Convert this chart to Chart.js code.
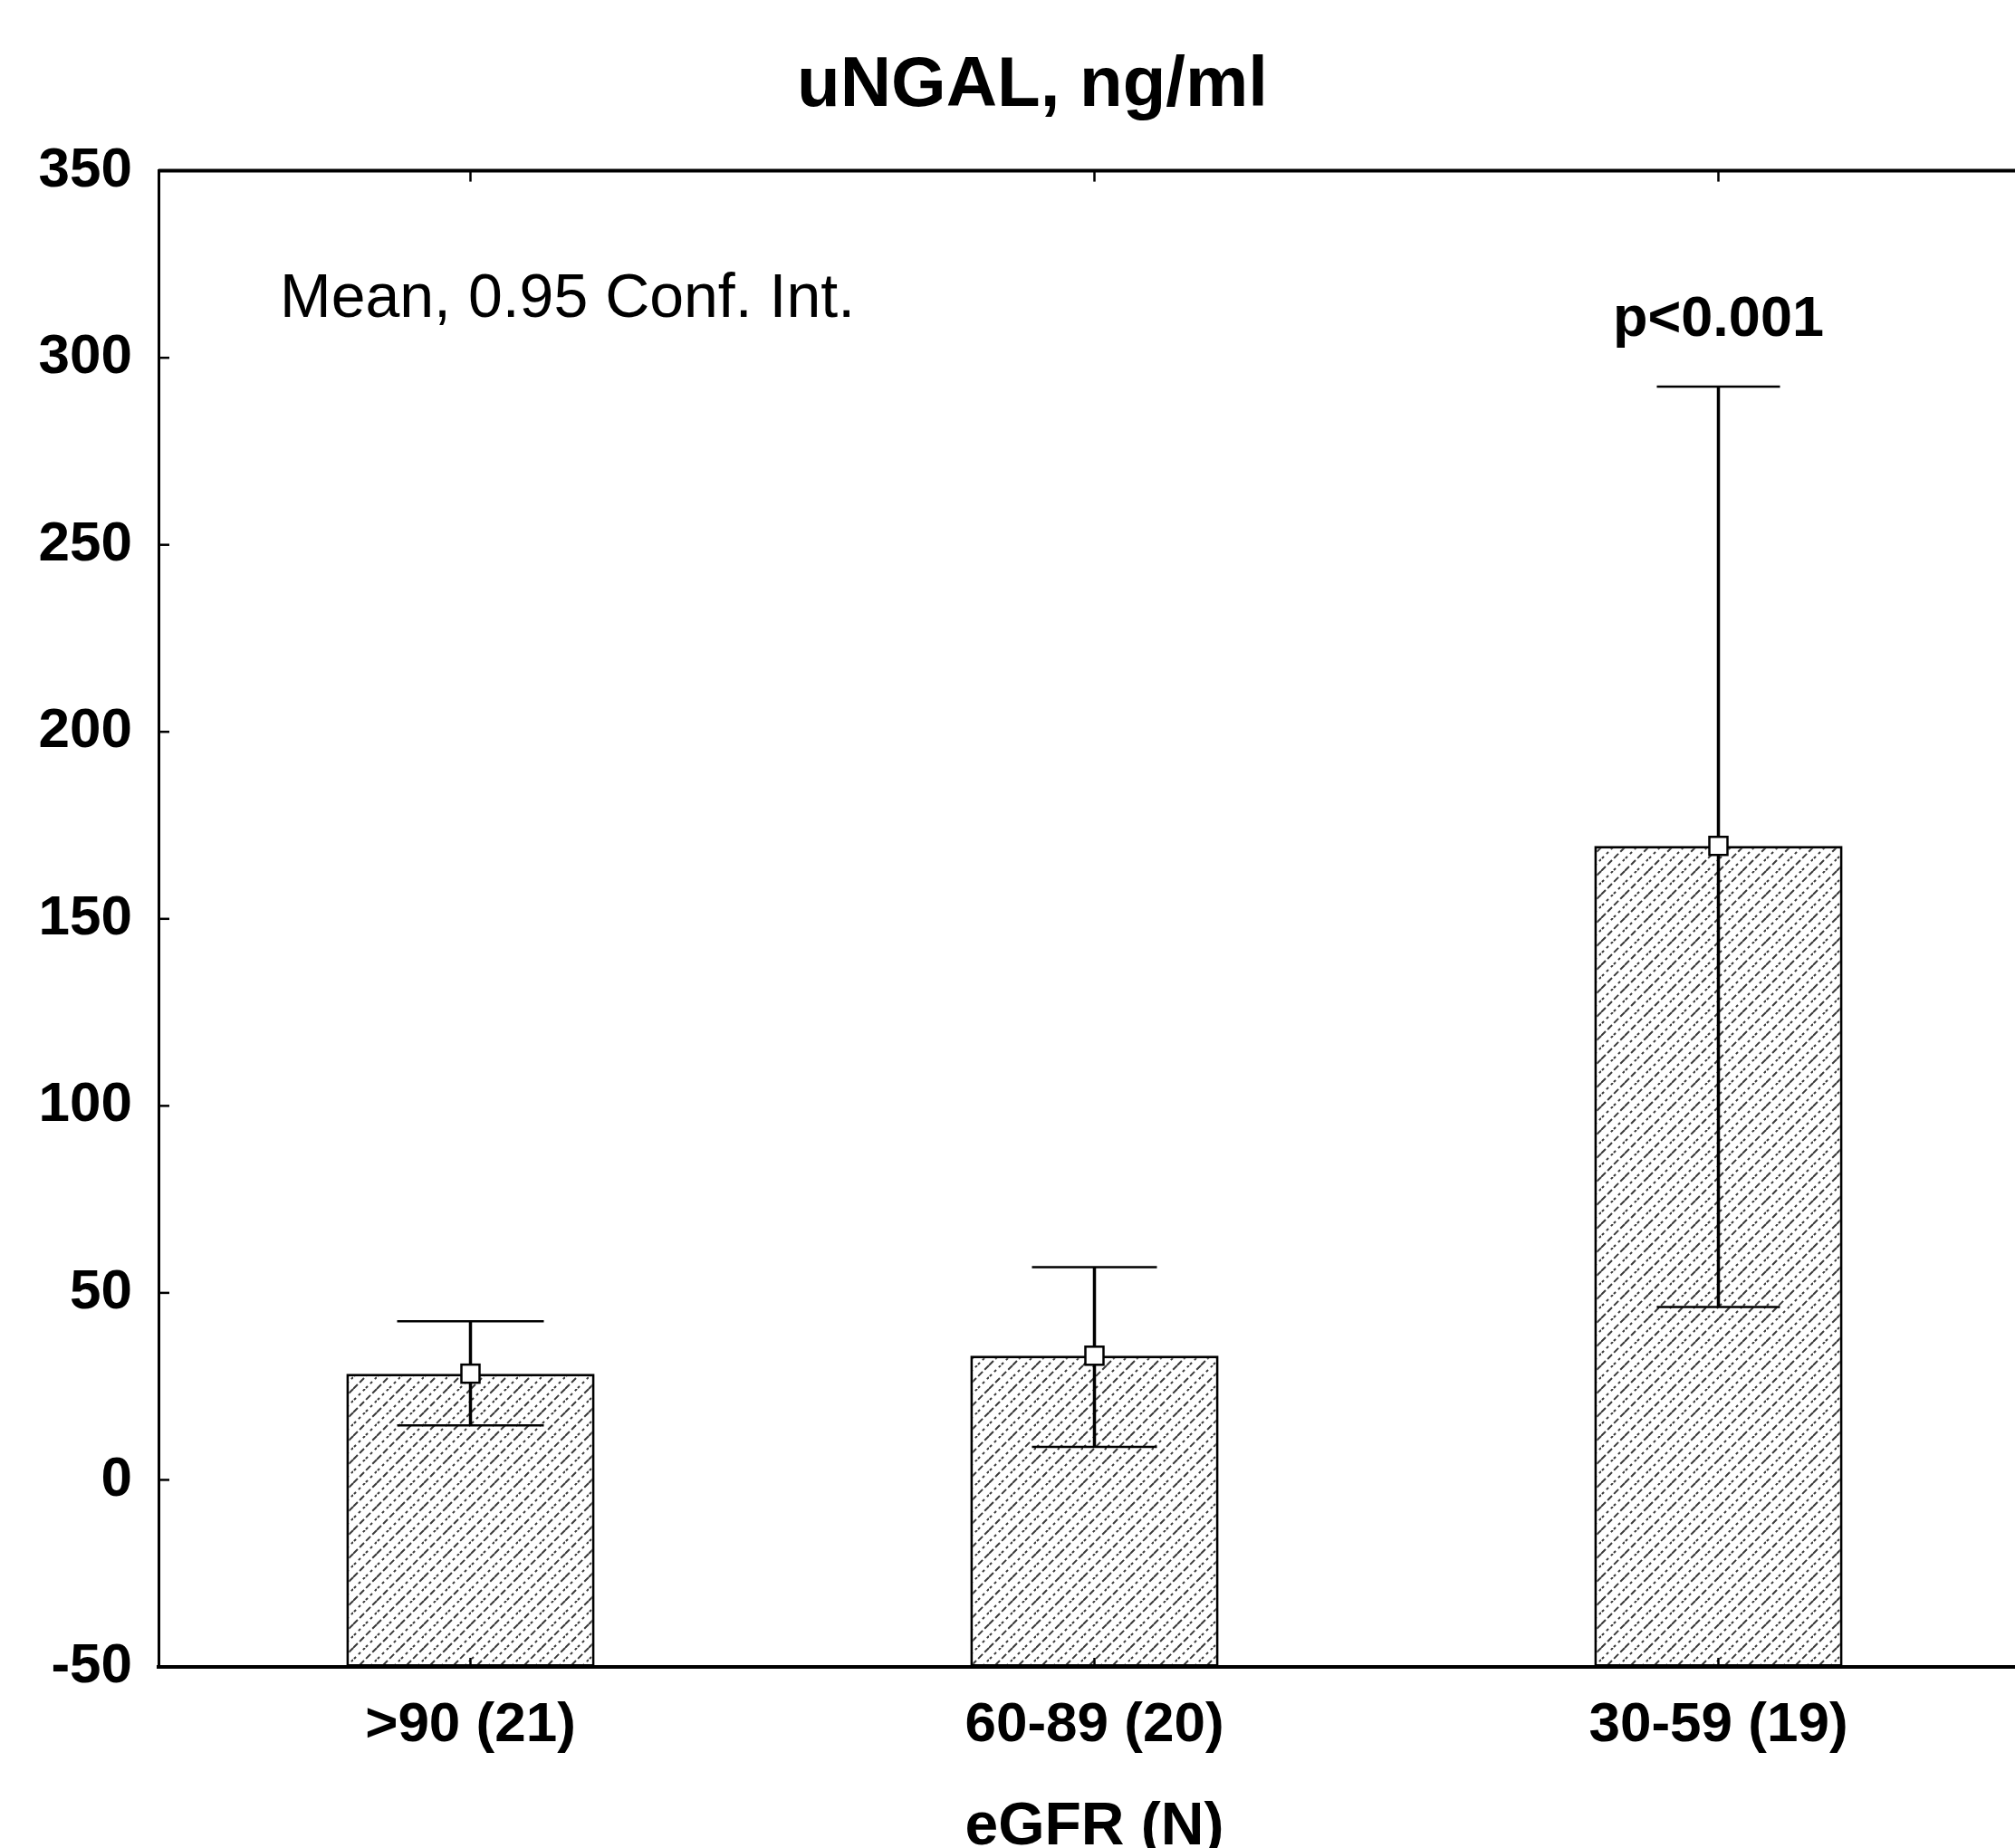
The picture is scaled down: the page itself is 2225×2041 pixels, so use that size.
<!DOCTYPE html>
<html>
<head>
<meta charset="utf-8">
<script src="https://cdn.jsdelivr.net/npm/chart.js@4.4.1/dist/chart.umd.min.js"></script>
<style>
  html, body { margin: 0; padding: 0; background: #fff; overflow: hidden; }
  #wrap { width: 2260px; height: 2041px; position: relative; }
</style>
</head>
<body>
<div id="wrap"><canvas id="c" width="2260" height="2041"></canvas></div>
<script>
// ---- data ----
const categories = ['>90 (21)', '60-89 (20)', '30-59 (19)'];
const means = [28.4, 33.2, 169.5];
const ciUpper = [42.4, 56.9, 292.3];
const ciLower = [14.6, 8.8, 46.2];
const yTicks = [-50, 0, 50, 100, 150, 200, 250, 300, 350];
const chartTitle = 'uNGAL, ng/ml';
const xTitle = 'eGFR (N)';
const legendNote = 'Mean, 0.95 Conf. Int.';
const pNote = 'p<0.001';

const FONT = '"Liberation Sans", Arial, Helvetica, sans-serif';
const Y_MIN = yTicks[0], Y_MAX = yTicks[yTicks.length - 1];

// hatch pattern
function makePattern() {
  const s = 26;
  const p = document.createElement('canvas');
  p.width = s; p.height = s;
  const g = p.getContext('2d');
  g.fillStyle = '#fff';
  g.fillRect(0, 0, s, s);
  g.strokeStyle = '#3a3a3a';
  g.lineWidth = 2;
  g.lineCap = 'butt';
  g.setLineDash([7, 3]);
  [[0, s, s, 0], [-s, s, s, -s], [0, 2 * s, 2 * s, 0]].forEach(l => {
    g.beginPath(); g.moveTo(l[0], l[1]); g.lineTo(l[2], l[3]); g.stroke();
  });
  g.setLineDash([3, 4]);
  [[0, s / 2, s / 2, 0], [s / 2, s, s, s / 2]].forEach(l => {
    g.beginPath(); g.moveTo(l[0] - 4, l[1] + 4); g.lineTo(l[2] + 4, l[3] - 4); g.stroke();
  });
  return g.createPattern(p, 'repeat');
}

const capHalf = [81, 69, 68];

const decorPlugin = {
  id: 'decor',
  afterDatasetsDraw(chart) {
    const ctx = chart.ctx;
    const ca = chart.chartArea;
    const xs = chart.scales.x, ys = chart.scales.y;
    const meta = chart.getDatasetMeta(0);
    ctx.save();
    ctx.strokeStyle = '#000';
    meta.data.forEach((bar, i) => {
      const x = bar.x;
      const yu = ys.getPixelForValue(ciUpper[i]);
      const yl = ys.getPixelForValue(ciLower[i]);
      const ym = ys.getPixelForValue(means[i]);
      ctx.lineWidth = 3.5;
      ctx.beginPath(); ctx.moveTo(x, yu); ctx.lineTo(x, yl); ctx.stroke();
      ctx.lineWidth = 2.5;
      ctx.beginPath(); ctx.moveTo(x - capHalf[i], yu); ctx.lineTo(x + capHalf[i], yu); ctx.stroke();
      ctx.beginPath(); ctx.moveTo(x - capHalf[i], yl); ctx.lineTo(x + capHalf[i], yl); ctx.stroke();
      ctx.fillStyle = '#fff';
      ctx.lineWidth = 2.5;
      ctx.fillRect(x - 10, ym - 10, 20, 20);
      ctx.strokeRect(x - 10, ym - 10, 20, 20);
    });
    ctx.lineWidth = 4;
    ctx.beginPath(); ctx.moveTo(ca.left, ca.top); ctx.lineTo(ca.right, ca.top); ctx.stroke();
    ctx.lineWidth = 2.5;
    yTicks.forEach(v => {
      const y = ys.getPixelForValue(v);
      ctx.beginPath(); ctx.moveTo(ca.left, y); ctx.lineTo(ca.left + 12, y); ctx.stroke();
    });
    categories.forEach((c, i) => {
      const x = xs.getPixelForValue(i);
      ctx.beginPath(); ctx.moveTo(x, ca.top); ctx.lineTo(x, ca.top + 12); ctx.stroke();
      ctx.beginPath(); ctx.moveTo(x, ca.bottom); ctx.lineTo(x, ca.bottom - 10); ctx.stroke();
    });
    ctx.fillStyle = '#000';
    ctx.textBaseline = 'middle';
    ctx.font = '68px ' + FONT;
    ctx.textAlign = 'left';
    ctx.fillText(legendNote, 309, ys.getPixelForValue(315.5));
    ctx.font = 'bold 63px ' + FONT;
    ctx.textAlign = 'center';
    ctx.fillText(pNote, xs.getPixelForValue(2), ys.getPixelForValue(310));
    ctx.restore();
  }
};

const ctx = document.getElementById('c').getContext('2d');
new Chart(ctx, {
  type: 'bar',
  data: {
    labels: categories,
    datasets: [{
      data: means,
      base: Y_MIN,
      backgroundColor: makePattern(),
      borderColor: '#000',
      borderWidth: 3,
      borderSkipped: false,
      barPercentage: 0.398,
      categoryPercentage: 1.0
    }]
  },
  options: {
    responsive: false,
    animation: false,
    devicePixelRatio: 1,
    layout: { padding: { left: 38, right: 18, top: 0, bottom: 0 } },
    plugins: {
      legend: { display: false },
      tooltip: { enabled: false },
      title: {
        display: true,
        text: chartTitle,
        color: '#000',
        font: { family: FONT, size: 78, weight: 'bold', lineHeight: 1.2 },
        padding: { top: 49, bottom: 46 }
      }
    },
    scales: {
      x: {
        type: 'category',
        offset: true,
        grid: { display: false, drawTicks: false },
        border: { display: true, color: '#000', width: 4 },
        ticks: {
          color: '#000',
          padding: 28,
          font: { family: FONT, size: 62, weight: 'bold', lineHeight: 1.2 }
        },
        title: {
          display: true,
          text: xTitle,
          color: '#000',
          padding: 0,
          font: { family: FONT, size: 66, weight: 'bold', lineHeight: 0.66 }
        },
        afterFit(scale) { scale.height = 200; }
      },
      y: {
        type: 'linear',
        min: Y_MIN,
        max: Y_MAX,
        grid: { display: false, drawTicks: false },
        border: { display: true, color: '#000', width: 3 },
        afterBuildTicks(scale) { scale.ticks = yTicks.map(v => ({ value: v })); },
        ticks: {
          color: '#000',
          padding: 29,
          font: { family: FONT, size: 62, weight: 'bold', lineHeight: 1.2 }
        },
        afterFit(scale) { scale.width = 137; }
      }
    }
  },
  plugins: [decorPlugin]
});
</script>
</body>
</html>
